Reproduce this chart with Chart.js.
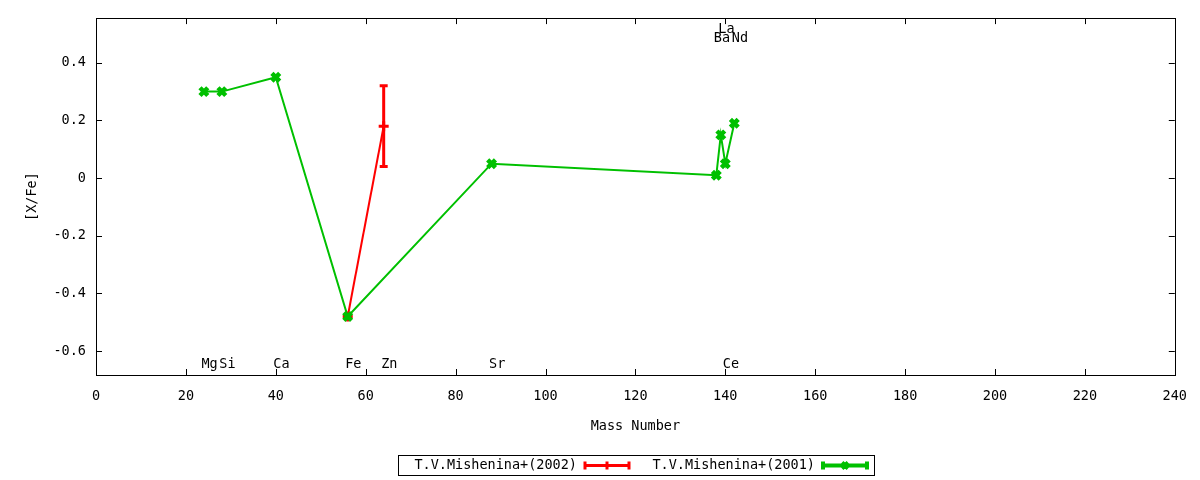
<!DOCTYPE html>
<html>
<head>
<meta charset="utf-8">
<script src="https://cdn.jsdelivr.net/npm/chart.js@4.4.0/dist/chart.umd.min.js"></script>
<style>
  html, body { margin: 0; padding: 0; background: #fff; }
  #wrap { width: 1200px; height: 480px; }
</style>
</head>
<body>
<div id="wrap"><canvas id="abund"></canvas></div>
<script>
const FONT = '"DejaVu Sans Mono", monospace';
const FSIZE = 13.5;

// T.V.Mishenina+(2002)
const mass2002 = [56, 64];
const xfe2002 = [-0.48, 0.18];
const lo2002 = [-0.48, 0.04];
const hi2002 = [-0.48, 0.32];

// T.V.Mishenina+(2001)
const mass2001 = [24, 28, 40, 56, 88, 138, 139, 140, 142];
const xfe2001 = [0.30, 0.30, 0.35, -0.48, 0.05, 0.01, 0.15, 0.05, 0.19];

// element names written on the plot
const elemNames = ['Mg', 'Si', 'Ca', 'Fe', 'Zn', 'Sr', 'Ce', 'Ba', 'La', 'Nd'];
const elemMass = [24, 28, 40, 56, 64, 88, 140, 138, 139, 142];
const elemY = [-0.647, -0.647, -0.647, -0.647, -0.647, -0.647, -0.647, 0.483, 0.514, 0.483];

const xTicks = [0, 20, 40, 60, 80, 100, 120, 140, 160, 180, 200, 220, 240];
const yTicks = [-0.6, -0.4, -0.2, 0, 0.2, 0.4];

const RED = '#ff0000';
const GREEN = '#00c000';

function pts(xs, ys) {
    return xs.map((x, i) => ({ x: x, y: ys[i] }));
}

// frame + inward ticks on all four sides, like gnuplot
const frame = {
    id: 'frame',
    beforeDatasetsDraw(chart) {
        const ctx = chart.ctx;
        const a = chart.chartArea;
        const xs = chart.scales.x, ys = chart.scales.y;
        ctx.save();
        ctx.strokeStyle = '#000';
        ctx.lineWidth = 1;
        ctx.strokeRect(Math.round(a.left) + 0.5, Math.round(a.top) + 0.5,
            Math.round(a.right - a.left), Math.round(a.bottom - a.top));
        ctx.beginPath();
        xTicks.forEach(v => {
            const px = Math.round(xs.getPixelForValue(v)) + 0.5;
            ctx.moveTo(px, a.bottom); ctx.lineTo(px, a.bottom - 6);
            ctx.moveTo(px, a.top); ctx.lineTo(px, a.top + 6);
        });
        yTicks.forEach(v => {
            const py = Math.round(ys.getPixelForValue(v)) + 0.5;
            ctx.moveTo(a.left, py); ctx.lineTo(a.left + 6, py);
            ctx.moveTo(a.right, py); ctx.lineTo(a.right - 6, py);
        });
        ctx.stroke();
        ctx.restore();
    }
};

// error bars + element labels
const extras = {
    id: 'extras',
    afterDatasetsDraw(chart) {
        const ctx = chart.ctx;
        const xs = chart.scales.x, ys = chart.scales.y;
        ctx.save();
        ctx.strokeStyle = RED;
        ctx.lineWidth = 3;
        mass2002.forEach((m, i) => {
            if (lo2002[i] === hi2002[i]) return;
            const px = xs.getPixelForValue(m);
            const y1 = ys.getPixelForValue(lo2002[i]);
            const y2 = ys.getPixelForValue(hi2002[i]);
            ctx.beginPath();
            ctx.moveTo(px, y1); ctx.lineTo(px, y2);
            ctx.moveTo(px - 4, y1); ctx.lineTo(px + 4, y1);
            ctx.moveTo(px - 4, y2); ctx.lineTo(px + 4, y2);
            ctx.stroke();
        });

        ctx.fillStyle = '#000';
        ctx.font = FSIZE + 'px ' + FONT;
        ctx.textAlign = 'left';
        ctx.textBaseline = 'middle';
        elemNames.forEach((n, i) => {
            ctx.fillText(n, xs.getPixelForValue(elemMass[i]) - 2.5, ys.getPixelForValue(elemY[i]));
        });
        ctx.restore();
    },
    afterDraw(chart) {
        // legend box under the plot
        const ctx = chart.ctx;
        ctx.save();
        ctx.strokeStyle = '#000';
        ctx.lineWidth = 1;
        ctx.strokeRect(398.5, 455.5, 476, 20);
        ctx.fillStyle = '#000';
        ctx.font = FSIZE + 'px ' + FONT;
        ctx.textAlign = 'right';
        ctx.textBaseline = 'middle';
        const cy = 465.5;
        const entries = [
            { label: chart.data.datasets[0].label, color: RED, x0: 585, textR: 577, mark: 'plus' },
            { label: chart.data.datasets[1].label, color: GREEN, x0: 823, textR: 815, mark: 'x' }
        ];
        entries.forEach(e => {
            ctx.fillText(e.label, e.textR, cy);
            const x1 = e.x0 + 44, xm = e.x0 + 22;
            ctx.strokeStyle = e.color;
            ctx.lineWidth = 3;
            ctx.beginPath();
            ctx.moveTo(e.x0, cy); ctx.lineTo(x1, cy);
            ctx.moveTo(e.x0, cy - 4); ctx.lineTo(e.x0, cy + 4);
            ctx.moveTo(x1, cy - 4); ctx.lineTo(x1, cy + 4);
            if (e.mark === 'plus') {
                ctx.moveTo(xm, cy - 4); ctx.lineTo(xm, cy + 4);
            } else {
                ctx.lineWidth = 4;
                ctx.moveTo(xm - 3, cy - 3); ctx.lineTo(xm + 3, cy + 3);
                ctx.moveTo(xm - 3, cy + 3); ctx.lineTo(xm + 3, cy - 3);
            }
            ctx.stroke();
        });
        ctx.restore();
    }
};

const ctx = document.getElementById('abund').getContext('2d');
new Chart(ctx, {
    type: 'line',
    data: {
        datasets: [
            {
                label: 'T.V.Mishenina+(2002)',
                data: pts(mass2002, xfe2002),
                borderColor: RED,
                backgroundColor: RED,
                borderWidth: 2,
                pointStyle: 'cross',
                pointRadius: 5,
                pointBorderWidth: 3,
                tension: 0,
                order: 1
            },
            {
                label: 'T.V.Mishenina+(2001)',
                data: pts(mass2001, xfe2001),
                borderColor: GREEN,
                backgroundColor: GREEN,
                borderWidth: 2,
                pointStyle: 'crossRot',
                pointRadius: 5.5,
                pointBorderWidth: 4.5,
                tension: 0,
                order: 0
            }
        ]
    },
    options: {
        responsive: true,
        maintainAspectRatio: false,
        animation: false,
        devicePixelRatio: 1,
        layout: { padding: { top: 16, right: 21, bottom: 40, left: 0 } },
        plugins: {
            legend: { display: false },
            tooltip: { enabled: false }
        },
        scales: {
            x: {
                type: 'linear',
                min: 0,
                max: 240,
                grid: { display: false, drawTicks: false },
                border: { display: false },
                ticks: {
                    color: '#000',
                    font: { family: FONT, size: FSIZE },
                    padding: 13,
                    maxRotation: 0,
                    autoSkip: false
                },
                afterBuildTicks: s => { s.ticks = xTicks.map(v => ({ value: v })); },
                afterFit: s => { s.height = 65; },
                title: {
                    display: true,
                    text: 'Mass Number',
                    color: '#000',
                    font: { family: FONT, size: FSIZE },
                    padding: { top: 0, bottom: 5 }
                }
            },
            y: {
                type: 'linear',
                min: -0.683,
                max: 0.555,
                grid: { display: false, drawTicks: false },
                border: { display: false },
                ticks: {
                    color: '#000',
                    font: { family: FONT, size: FSIZE },
                    padding: 10,
                    callback: v => String(v)
                },
                afterBuildTicks: s => { s.ticks = yTicks.map(v => ({ value: v })); },
                afterFit: s => { s.width = 96; },
                title: {
                    display: true,
                    text: '[X/Fe]',
                    color: '#000',
                    font: { family: FONT, size: FSIZE },
                    padding: { top: 24, bottom: 0 }
                }
            }
        }
    },
    plugins: [frame, extras]
});
</script>
</body>
</html>
